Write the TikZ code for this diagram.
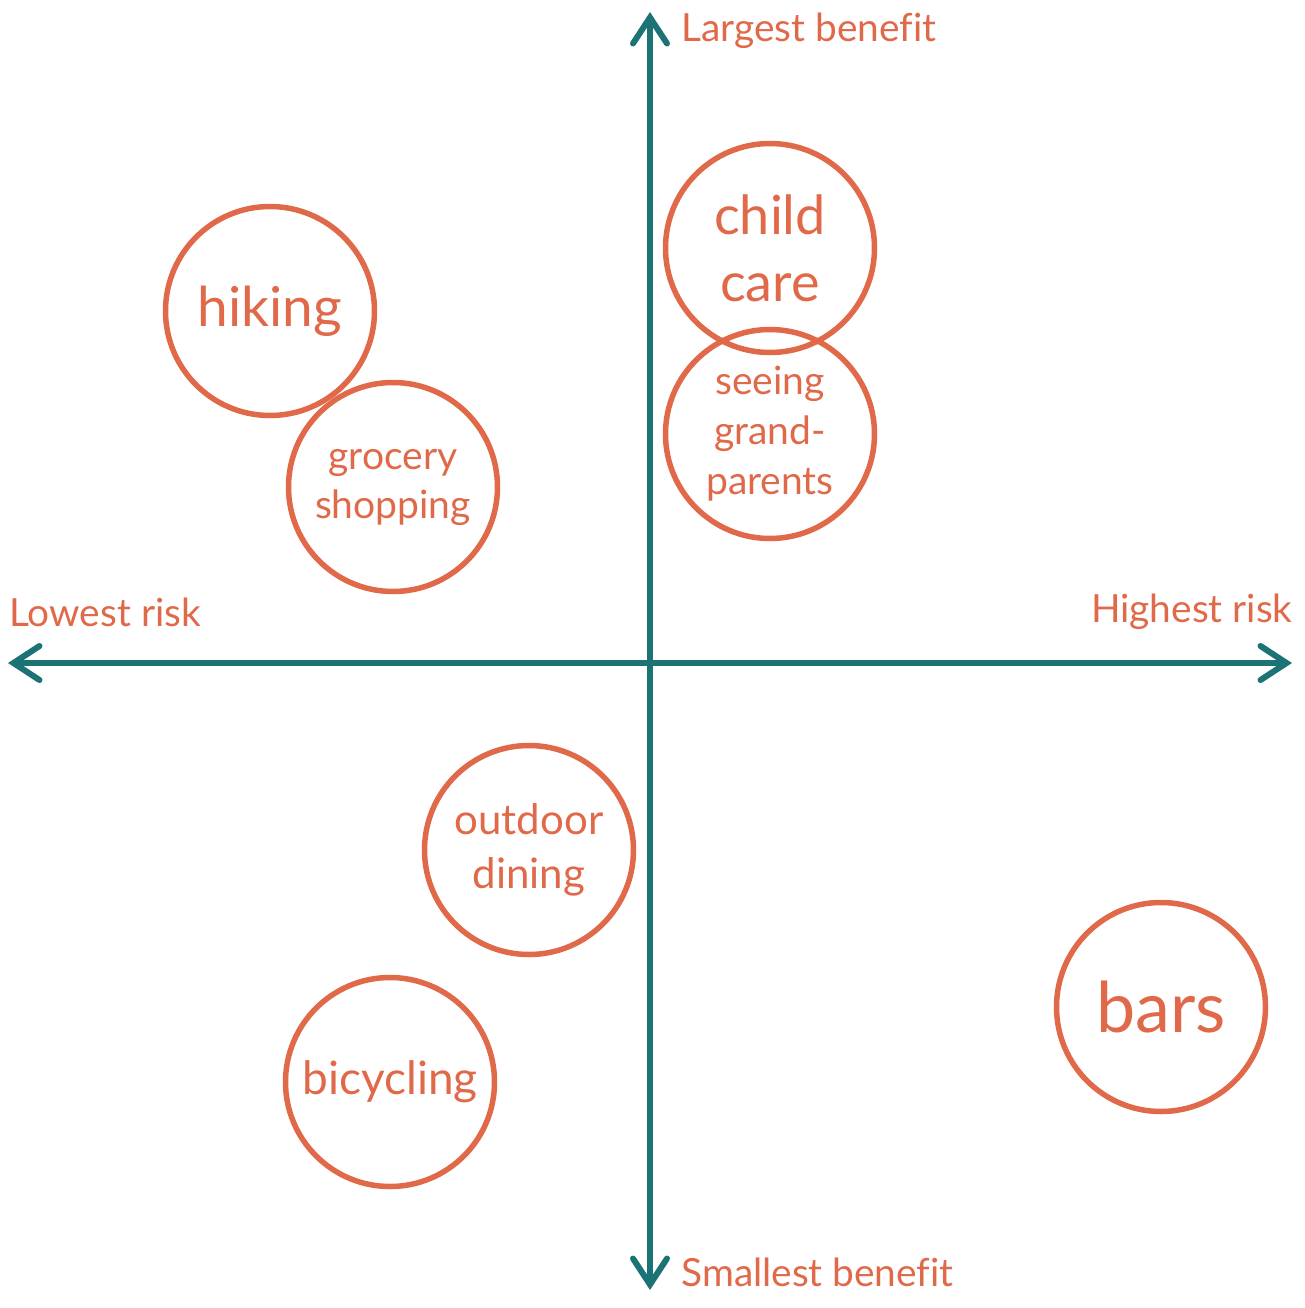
\documentclass[tikz,border=0pt]{standalone}
\usepackage{fontspec}
\setmainfont{Lato}[Ligatures=NoCommon]
\usetikzlibrary{arrows.meta,positioning}
\definecolor{riskorange}{HTML}{E0694A}
\definecolor{axisteal}{HTML}{1B7375}

\begin{document}
\begin{tikzpicture}[x=0.5pt,y=-0.5pt,
  act/.style={circle, draw=riskorange, line width=2.75pt, text=riskorange, minimum size=104.5pt, inner sep=0pt, align=center},
  axis/.style={draw=axisteal, line width=3pt, line cap=round, {Straight Barb[length=13pt,width=17pt,line cap=round]}-{Straight Barb[length=13pt,width=17pt,line cap=round]}},
  lbl/.style={text=riskorange, font=\fontsize{19.4}{22}\selectfont, inner sep=0pt}]
  \useasboundingbox (0,0) rectangle (1305,1308);
  \coordinate (top) at (650,12);
  \coordinate (bottom) at (650,1290);
  \coordinate (left) at (8,663);
  \coordinate (right) at (1292,663);
  \path[axis] (bottom) -- (top);
  \path[axis] (left) -- (right);
  \node[lbl, anchor=west] (largest) at (681,31) {Largest benefit};
  \node[lbl, anchor=west] (smallest) at (681,1272) {Smallest benefit};
  \node[lbl, anchor=west] (lowest) at (9,612) {Lowest risk};
  \node[lbl, anchor=east] (highest) at (1293,612) {Highest risk};
  \node[act, font=\fontsize{27.5}{33.5}\selectfont] (hiking) at (270,311) {hiking};
  \node[act, font=\fontsize{19.5}{24.5}\selectfont] (grocery) at (393,487) {grocery\\shopping};
  \node[act, font=\fontsize{27}{33.5}\selectfont] (childcare) at (770,248) {child\\care};
  \node[act, font=\fontsize{19.5}{25}\selectfont] (grandparents) at (770,434) {seeing\\grand-\\parents};
  \node[act, font=\fontsize{21}{27}\selectfont] (dining) at (529,850) {outdoor\\dining};
  \node[act, font=\fontsize{23}{27}\selectfont] (bicycling) at (390,1082) {bicycling};
  \node[act, font=\fontsize{35}{40}\selectfont] (bars) at (1161,1007) {bars};
\end{tikzpicture}
\end{document}
